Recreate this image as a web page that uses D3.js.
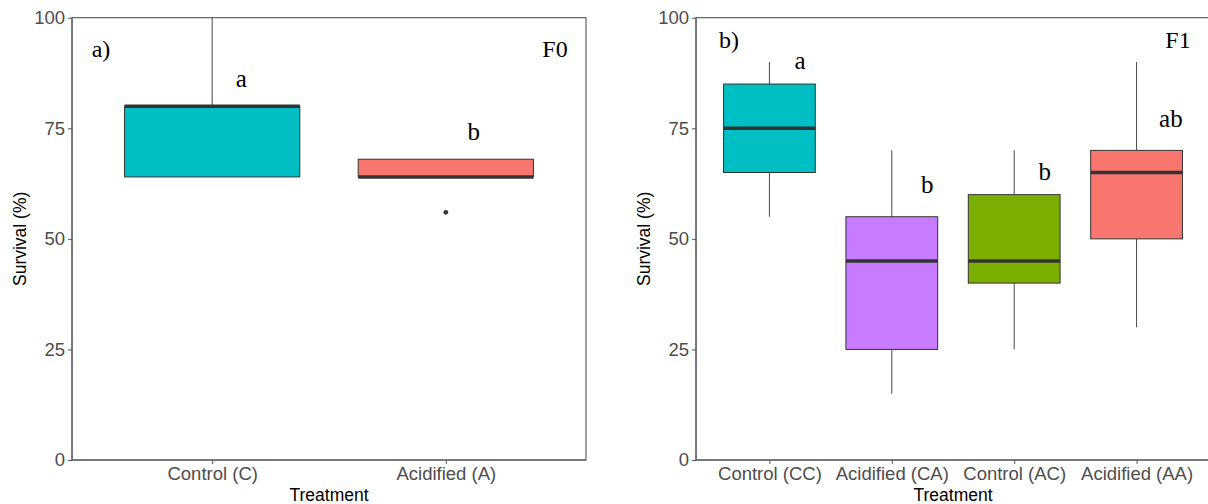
<!DOCTYPE html>
<html><head><meta charset="utf-8">
<script src="https://cdn.jsdelivr.net/npm/d3@7"></script>
<style>body{margin:0;background:#fff}svg{display:block}</style>
</head><body>
<svg id="c" width="1208" height="504"></svg>
<script>
// ---- data ----
const f0Categories = ["Control (C)", "Acidified (A)"];
const f0Colors = ["#00BFC4", "#F8766D"];
const f0Min = [64, 64];
const f0Q1 = [64, 64];
const f0Median = [80, 64];
const f0Q3 = [80, 68];
const f0Max = [100, 68];
const f0Outliers = [[], [56]];
const f0Letters = ["a", "b"];
const f0LetterY = [86, 74];

const f1Categories = ["Control (CC)", "Acidified (CA)", "Control (AC)", "Acidified (AA)"];
const f1Colors = ["#00BFC4", "#C77CFF", "#7CAE00", "#F8766D"];
const f1Min = [55, 15, 25, 30];
const f1Q1 = [65, 25, 40, 50];
const f1Median = [75, 45, 45, 65];
const f1Q3 = [85, 55, 60, 70];
const f1Max = [90, 70, 70, 90];
const f1Outliers = [[], [], [], []];
const f1Letters = ["a", "b", "b", "ab"];
const f1LetterY = [90, 62, 65, 77];

const yTicks = [0, 25, 50, 75, 100];

const svg = d3.select("#c");
const yTop = 17.7, yBot = 460;

function panel(opts) {
  const {x0, x1, cats, colors, mins, q1, med, q3, maxs, outs, letters, letterY, letterOff, tag, tagX, fLabel, fX, tagY} = opts;
  const g = svg.append("g");
  const x = d3.scalePoint().domain(cats).range([x0, x1]).padding(0.6);
  const y = d3.scaleLinear().domain([0, 100]).range([yBot, yTop]);
  const step = x.step();
  const bw = step * 0.75;

  cats.forEach((c, i) => {
    const cx = x(c);
    const bg = g.append("g");
    bg.append("line").attr("x1", cx).attr("x2", cx).attr("y1", y(q3[i])).attr("y2", y(maxs[i]))
      .attr("stroke", "#333").attr("stroke-width", 0.9);
    bg.append("line").attr("x1", cx).attr("x2", cx).attr("y1", y(q1[i])).attr("y2", y(mins[i]))
      .attr("stroke", "#333").attr("stroke-width", 0.9);
    bg.append("rect").attr("x", cx - bw / 2).attr("width", bw)
      .attr("y", y(q3[i])).attr("height", Math.max(0, y(q1[i]) - y(q3[i])))
      .attr("fill", colors[i]).attr("stroke", "#333").attr("stroke-width", 1);
    bg.append("line").attr("x1", cx - bw / 2).attr("x2", cx + bw / 2)
      .attr("y1", y(med[i])).attr("y2", y(med[i]))
      .attr("stroke", "#333").attr("stroke-width", 3.5);
    outs[i].forEach(v => {
      bg.append("circle").attr("cx", cx).attr("cy", y(v)).attr("r", 2.4).attr("fill", "#333");
    });
    g.append("text").attr("x", cx + step * letterOff[i]).attr("y", y(letterY[i]))
      .attr("text-anchor", "middle").attr("dy", "0.3em")
      .style("font-family", "'Liberation Serif', serif").style("font-size", "25px")
      .attr("fill", "#000").text(letters[i]);
  });

  g.append("rect").attr("x", x0).attr("y", yTop).attr("width", x1 - x0).attr("height", yBot - yTop)
    .attr("fill", "none").attr("stroke", "#555").attr("stroke-width", 1.1);

  const ya = g.append("g").attr("transform", `translate(${x0},0)`)
    .call(d3.axisLeft(y).tickValues(yTicks).tickSize(4).tickPadding(3));
  const xa = g.append("g").attr("transform", `translate(0,${yBot})`)
    .call(d3.axisBottom(x).tickSize(4).tickPadding(3));
  [ya, xa].forEach(a => {
    a.select(".domain").remove();
    a.selectAll(".tick line").attr("stroke", "#555");
    a.selectAll(".tick text").attr("fill", "#4D4D4D")
      .style("font-family", "'Liberation Sans', Arial, sans-serif").style("font-size", "18.5px");
  });
  g.append("line").attr("x1", x0).attr("x2", x0).attr("y1", yTop).attr("y2", yBot).attr("stroke", "#555");
  g.append("line").attr("x1", x0).attr("x2", x1).attr("y1", yBot).attr("y2", yBot).attr("stroke", "#555");

  g.append("text").attr("x", (x0 + x1) / 2).attr("y", 501).attr("text-anchor", "middle")
    .style("font-family", "'Liberation Sans', Arial, sans-serif").style("font-size", "17.5px")
    .text("Treatment");
  g.append("text").attr("transform", `translate(${x0 - 46},${(yTop + yBot) / 2}) rotate(-90)`)
    .attr("text-anchor", "middle")
    .style("font-family", "'Liberation Sans', Arial, sans-serif").style("font-size", "17.5px")
    .text("Survival (%)");

  g.append("text").attr("x", tagX).attr("y", y(tagY)).attr("dy", "0.35em").attr("text-anchor", "middle")
    .style("font-family", "'Liberation Serif', serif").style("font-size", "24px").text(tag);
  g.append("text").attr("x", fX).attr("y", y(tagY)).attr("dy", "0.35em").attr("text-anchor", "middle")
    .style("font-family", "'Liberation Serif', serif").style("font-size", "24px").text(fLabel);
}

panel({x0: 72, x1: 586, cats: f0Categories, colors: f0Colors, mins: f0Min, q1: f0Q1, med: f0Median,
  q3: f0Q3, maxs: f0Max, outs: f0Outliers, letters: f0Letters, letterY: f0LetterY,
  letterOff: [0.125, 0.12], tag: "a)", tagX: 101, fLabel: "F0", fX: 555, tagY: 93});
panel({x0: 696, x1: 1210, cats: f1Categories, colors: f1Colors, mins: f1Min, q1: f1Q1, med: f1Median,
  q3: f1Q3, maxs: f1Max, outs: f1Outliers, letters: f1Letters, letterY: f1LetterY,
  letterOff: [0.25, 0.29, 0.25, 0.28], tag: "b)", tagX: 729, fLabel: "F1", fX: 1178, tagY: 95});
</script>
</body></html>
